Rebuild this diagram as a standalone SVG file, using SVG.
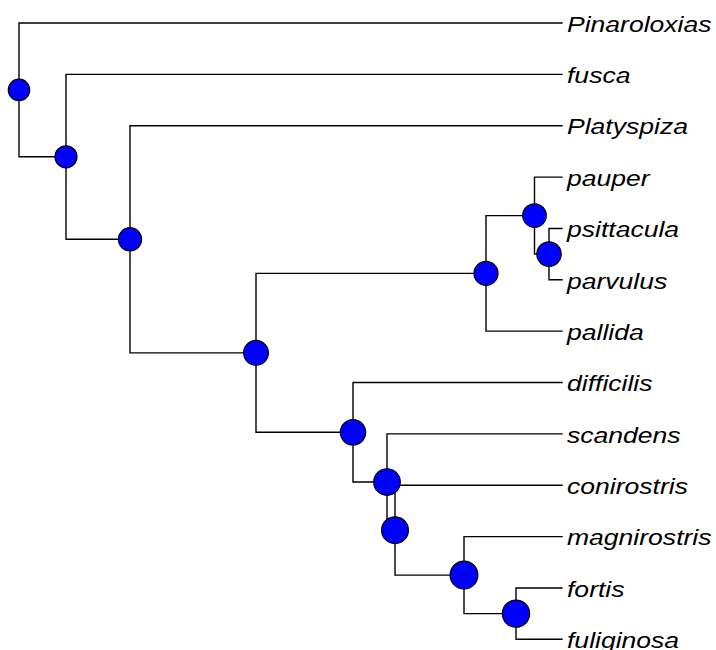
<svg xmlns="http://www.w3.org/2000/svg" width="716" height="650" viewBox="0 0 716 650">
<style>
.e{fill:none;stroke:#000;stroke-width:1.4;stroke-linecap:square}
.n{fill:#0000ff;stroke:#000;stroke-width:1.2}
.t{font-family:"Liberation Sans",Arial,sans-serif;font-style:italic;font-size:22.5px;fill:#000}
</style>
<rect width="716" height="650" fill="#fff"/>
<g id="connectors">
<path class="e" d="M562,23 H19 V156.82 H66"/>
<path class="e" d="M562,74.36 H66 V239.28 H130"/>
<path class="e" d="M562,125.72 H130 V352.83 H256"/>
<path class="e" d="M486,273.38 H256 V432.28 H353"/>
<path class="e" d="M534.5,215.6 H486 V331.16 H562"/>
<path class="e" d="M562,177.08 H534.5 V254.12 H549"/>
<path class="e" d="M562,228.44 H549 V279.8 H562"/>
<path class="e" d="M562,382.52 H353 V482.03 H387"/>
<path class="e" d="M562,433.88 H387 V530.18 H395"/>
<path class="e" d="M562,485.24 H395 V575.12 H464"/>
<path class="e" d="M562,536.6 H464 V613.64 H516"/>
<path class="e" d="M562,587.96 H516 V639.32 H562"/>
</g>
<g id="node-root"><circle class="n" cx="19" cy="89.91" r="10.7"/></g>
<g id="node-n2"><circle class="n" cx="66" cy="156.82" r="11"/></g>
<g id="node-n3"><circle class="n" cx="130" cy="239.28" r="11.6"/></g>
<g id="node-n4"><circle class="n" cx="256" cy="352.83" r="12.4"/></g>
<g id="node-npal"><circle class="n" cx="486" cy="273.38" r="12"/></g>
<g id="node-npau"><circle class="n" cx="534.5" cy="215.6" r="11.8"/></g>
<g id="node-npsi"><circle class="n" cx="549" cy="254.12" r="12.2"/></g>
<g id="node-n5"><circle class="n" cx="353" cy="432.28" r="12.7"/></g>
<g id="node-n6"><circle class="n" cx="387" cy="482.03" r="13.3"/></g>
<g id="node-n7"><circle class="n" cx="395" cy="530.18" r="13.4"/></g>
<g id="node-n8"><circle class="n" cx="464" cy="575.12" r="13.9"/></g>
<g id="node-n9"><circle class="n" cx="516" cy="613.64" r="13.6"/></g>
<g id="tip-pinaroloxias"><text class="t" transform="translate(567,31.7) scale(1.18,1)">Pinaroloxias</text></g>
<g id="tip-fusca"><text class="t" transform="translate(567,83.06) scale(1.18,1)">fusca</text></g>
<g id="tip-platyspiza"><text class="t" transform="translate(567,134.42) scale(1.18,1)">Platyspiza</text></g>
<g id="tip-pauper"><text class="t" transform="translate(567,185.78) scale(1.18,1)">pauper</text></g>
<g id="tip-psittacula"><text class="t" transform="translate(567,237.14) scale(1.18,1)">psittacula</text></g>
<g id="tip-parvulus"><text class="t" transform="translate(567,288.5) scale(1.18,1)">parvulus</text></g>
<g id="tip-pallida"><text class="t" transform="translate(567,339.86) scale(1.18,1)">pallida</text></g>
<g id="tip-difficilis"><text class="t" transform="translate(567,391.22) scale(1.18,1)">difficilis</text></g>
<g id="tip-scandens"><text class="t" transform="translate(567,442.58) scale(1.18,1)">scandens</text></g>
<g id="tip-conirostris"><text class="t" transform="translate(567,493.94) scale(1.18,1)">conirostris</text></g>
<g id="tip-magnirostris"><text class="t" transform="translate(567,545.3) scale(1.18,1)">magnirostris</text></g>
<g id="tip-fortis"><text class="t" transform="translate(567,596.66) scale(1.18,1)">fortis</text></g>
<g id="tip-fuliginosa"><text class="t" transform="translate(567,648.02) scale(1.18,1)">fuliginosa</text></g>
</svg>
